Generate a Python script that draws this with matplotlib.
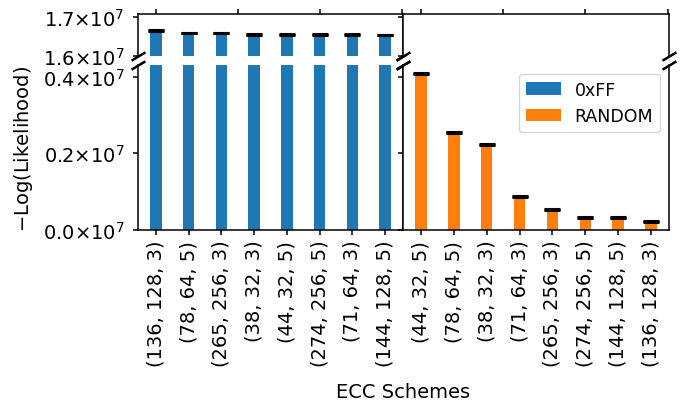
import numpy as np
import matplotlib
matplotlib.use("Agg")
import matplotlib.pyplot as plt
from matplotlib.ticker import FuncFormatter

# data
ff_schemes = ["(136, 128, 3)", "(78, 64, 5)", "(265, 256, 3)", "(38, 32, 3)",
              "(44, 32, 5)", "(274, 256, 5)", "(71, 64, 3)", "(144, 128, 5)"]
ff_values = [1.665e7, 1.659e7, 1.659e7, 1.656e7, 1.656e7, 1.656e7, 1.655e7, 1.654e7]
ff_err = [1e4] * 8

rnd_schemes = ["(44, 32, 5)", "(78, 64, 5)", "(38, 32, 3)", "(71, 64, 3)",
               "(265, 256, 3)", "(274, 256, 5)", "(144, 128, 5)", "(136, 128, 3)"]
rnd_values = [4.08e6, 2.55e6, 2.23e6, 0.875e6, 0.54e6, 0.33e6, 0.33e6, 0.215e6]
rnd_err = [1e4] * 8

low_lim = (0, 4.3e6)
high_lim = (1.6e7, 1.708e7)
top_ticks = [0, 2.5, 5, 7.5]

plt.rcParams['font.size'] = 14
plt.rcParams['axes.linewidth'] = 1.1
plt.rcParams['xtick.major.width'] = 1.1
plt.rcParams['ytick.major.width'] = 1.1
plt.rcParams['ytick.major.pad'] = 6

W, H = 693, 402
fig = plt.figure(figsize=(W / 100, H / 100), dpi=100)


def px_axes(x0, x1, y0, y1):
    return fig.add_axes([x0 / W, 1 - y1 / H, (x1 - x0) / W, (y1 - y0) / H])


fmt = FuncFormatter(lambda v, p: r'$%.1f{\times}10^{7}$' % (v / 1e7))

cols = [(138, 403, ff_schemes, ff_values, ff_err, 'C0', '0xFF'),
        (403, 669, rnd_schemes, rnd_values, rnd_err, 'C1', 'RANDOM')]

bottoms = []
for i, (x0, x1, names, vals, errs, color, lab) in enumerate(cols):
    top = px_axes(x0, x1, 15, 57)
    bot = px_axes(x0, x1, 66, 231)
    x = np.arange(len(names))
    for ax in (top, bot):
        ax.bar(x, vals, width=0.35, color=color, label=lab,
               yerr=errs, capsize=6, error_kw=dict(capthick=2.2, elinewidth=1, ecolor='black'))
    top.set_ylim(*high_lim)
    bot.set_ylim(*low_lim)
    top.set_yticks([1.6e7, 1.7e7])
    bot.set_yticks([0, 0.2e7, 0.4e7])
    top.yaxis.set_major_formatter(fmt)
    bot.yaxis.set_major_formatter(fmt)
    top.spines['bottom'].set_visible(False)
    bot.spines['top'].set_visible(False)
    top.set_xticks(top_ticks)
    top.tick_params(axis='x', top=True, bottom=False, labeltop=False, labelbottom=False)
    bot.set_xticks(x)
    bot.set_xticklabels(names, rotation=90)
    if i > 0:
        top.tick_params(labelleft=False)
        bot.tick_params(labelleft=False)
    else:
        bot.set_ylabel('$-$Log(Likelihood)', labelpad=6)

    kw = dict(marker=[(-1, -0.6), (1, 0.6)], markersize=10, linestyle='none',
              color='k', mec='k', mew=1.8, clip_on=False)
    top.plot([0, 1], [0, 0], transform=top.transAxes, **kw)
    bot.plot([0, 1], [1, 1], transform=bot.transAxes, **kw)
    bottoms.append(bot)

handles = [bottoms[0].patches[0], bottoms[1].patches[0]]
bottoms[1].legend(handles, ['0xFF', 'RANDOM'], loc='upper right', fontsize=12.5)

fig.text(403 / W, 1 - 393 / H, 'ECC Schemes', ha='center', va='center')

fig.savefig('out.png', dpi=100)
